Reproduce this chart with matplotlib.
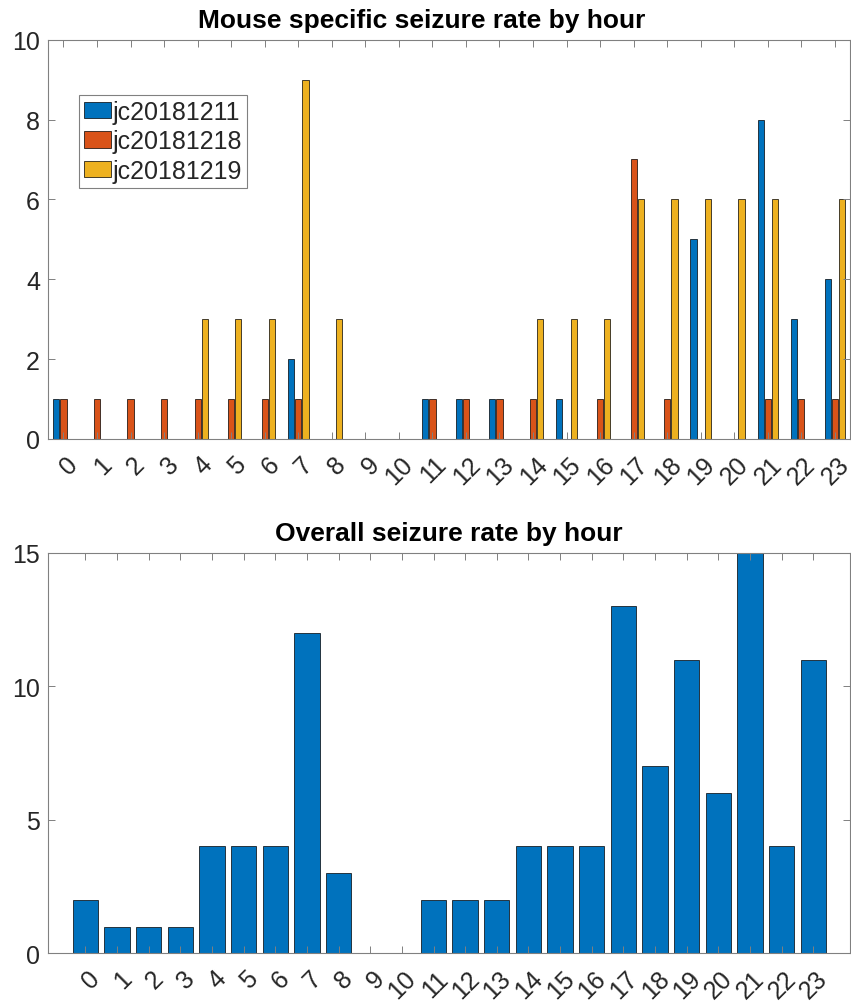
import numpy as np
import matplotlib
matplotlib.use("Agg")
import matplotlib.pyplot as plt
from matplotlib.transforms import ScaledTranslation

plt.rcParams['font.family'] = ['Liberation Sans', 'DejaVu Sans']

# Seizure counts per hour for each mouse
hours = list(range(24))
hour_labels = [str(h) for h in hours]
mice = ["jc20181211", "jc20181218", "jc20181219"]
jc20181211 = [1, 0, 0, 0, 0, 0, 0, 2, 0, 0, 0, 1, 1, 1, 0, 1, 0, 0, 0, 5, 0, 8, 3, 4]
jc20181218 = [1, 1, 1, 1, 1, 1, 1, 1, 0, 0, 0, 1, 1, 1, 1, 0, 1, 7, 1, 0, 0, 1, 1, 1]
jc20181219 = [0, 0, 0, 0, 3, 3, 3, 9, 3, 0, 0, 0, 0, 0, 3, 3, 3, 6, 6, 6, 6, 6, 0, 6]
overall = [2, 1, 1, 1, 4, 4, 4, 12, 3, 0, 0, 2, 2, 2, 4, 4, 4, 13, 7, 11, 6, 15, 4, 11]

colors = ["#0072BD", "#D95319", "#EDB120"]
axis_grey = "#808080"
text_col = "#262626"
FS = 18

fig = plt.figure(figsize=(8.51, 10.03), dpi=100)
W, H = 851, 1003


def px_axes(left, top, right, bottom):
    return fig.add_axes([left / W, 1 - bottom / H, (right - left) / W, (bottom - top) / H])


def style_axes(ax, yticks):
    for s in ax.spines.values():
        s.set_color(axis_grey)
        s.set_linewidth(0.8)
    ax.set_yticks(yticks)
    ax.set_yticklabels([str(v) for v in yticks])
    ax.tick_params(axis='both', direction='in', top=True, right=True,
                   length=4.8, width=0.7, color=axis_grey,
                   labelsize=FS, labelcolor=text_col)
    ax.tick_params(axis='y', pad=5.5)
    ax.tick_params(axis='x', pad=0)
    ax.set_xticks(hours)
    ax.set_xticklabels(hour_labels, rotation=45, ha='right', va='center',
                       rotation_mode='anchor')
    off = ScaledTranslation(10.5 / 100, -21 / 100, fig.dpi_scale_trans)
    for lab in ax.get_xticklabels():
        lab.set_transform(lab.get_transform() + off)


# Per-mouse grouped bars
ax1 = px_axes(47.7, 40.7, 850, 440)
x = np.array(hours, dtype=float)
offsets = [-0.215, 0.0, 0.215]
bw = 0.185
for series, name, c, o in zip([jc20181211, jc20181218, jc20181219], mice, colors, offsets):
    ax1.bar(x + o, series, width=bw, color=c, edgecolor='black', linewidth=0.5, label=name)
ax1.set_xlim(-0.47, 23.45)
ax1.set_ylim(0, 10)
style_axes(ax1, [0, 2, 4, 6, 8, 10])
ax1.set_title("Mouse specific seizure rate by hour", fontsize=19, fontweight='bold',
              color='black', pad=9, x=0.4665)
leg = ax1.legend(loc='upper left', bbox_to_anchor=(0.039, 0.862), borderaxespad=0,
                 fancybox=False, edgecolor=axis_grey, framealpha=1, fontsize=FS,
                 handlelength=1.1, handleheight=0.66, handletextpad=0.05,
                 labelspacing=0.22, borderpad=0.2)
leg.get_frame().set_linewidth(0.8)
for t in leg.get_texts():
    t.set_color(text_col)

# Overall counts
ax2 = px_axes(47.7, 553.7, 850, 954.3)
ax2.bar(x, overall, width=0.8, color=colors[0], edgecolor='black', linewidth=0.5)
ax2.set_xlim(-1.19, 24.16)
ax2.set_ylim(0, 15)
style_axes(ax2, [0, 5, 10, 15])
ax2.set_title("Overall seizure rate by hour", fontsize=19, fontweight='bold',
              color='black', pad=9)

fig.savefig("out.png", dpi=100, facecolor='white')
